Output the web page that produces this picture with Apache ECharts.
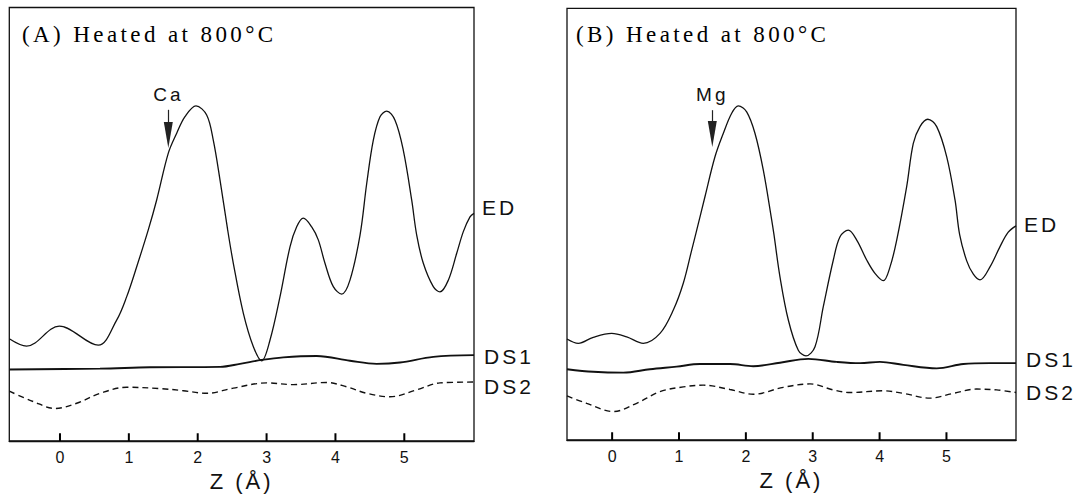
<!DOCTYPE html>
<html>
<head>
<meta charset="utf-8">
<script src="https://cdn.jsdelivr.net/npm/echarts@6/dist/echarts.min.js"></script>
<style>
  html, body { margin: 0; padding: 0; background: #fff; }
  #chart { width: 1082px; height: 497px; }
  /* the typeset figure uses generously spaced lettering */
  #chart text { letter-spacing: 3px; }
  #chart text[style*="Serif"], #chart text[font-family*="Serif"] { letter-spacing: 3.4px; }
  #chart text[style*="16px"], #chart text[font-size="16"] { letter-spacing: 0; }
</style>
</head>
<body>
<div id="chart"></div>
<script>
// Electron-density profiles along Z (Å), arbitrary units (0–100 scale)
const panelTitles = ['(A) Heated at 800°C', '(B) Heated at 800°C'];
const tickValues = [0, 1, 2, 3, 4, 5];
const axisName = 'Z (Å)';
const seriesNames = ['ED', 'DS1', 'DS2'];

// Panel A – Ca site
const edA = [
  [-0.736, 23.6], [-0.484, 21.9], [-0.010, 26.5], [0.556, 22.1], [0.823, 27.9],
  [0.969, 33.3], [1.114, 40.2], [1.282, 48.7], [1.404, 55.6], [1.573, 66.4],
  [1.695, 71.0], [1.815, 74.8], [1.975, 77.3], [2.130, 75.2], [2.226, 69.4],
  [2.324, 60.2], [2.435, 48.7], [2.517, 41.0], [2.662, 29.5], [2.807, 21.8],
  [2.929, 18.5], [3.050, 23.3], [3.195, 33.3], [3.340, 44.8], [3.437, 49.4],
  [3.533, 51.4], [3.655, 49.4], [3.751, 46.4], [3.848, 41.0], [3.969, 35.6],
  [4.091, 33.9], [4.211, 37.1], [4.357, 47.5], [4.454, 59.4], [4.550, 69.4],
  [4.647, 74.8], [4.744, 76.1], [4.865, 74.0], [4.985, 67.1], [5.107, 55.6],
  [5.180, 47.5], [5.276, 41.0], [5.421, 35.6], [5.518, 34.4], [5.639, 37.1],
  [5.761, 43.3], [5.857, 48.3], [5.954, 51.7], [6.012, 52.5]
];
const ds1A = [
  [-0.736, 16.5], [0.581, 16.7], [1.307, 17.0], [2.324, 17.1], [2.614, 17.8],
  [2.929, 18.7], [3.243, 19.3], [3.728, 19.6], [4.211, 18.5], [4.599, 17.8],
  [4.937, 18.1], [5.421, 19.4], [6.012, 19.8]
];
const ds2A = [
  [-0.736, 11.5], [-0.388, 9.1], [-0.073, 7.5], [0.243, 8.7], [0.581, 11.0],
  [0.969, 12.4], [1.452, 12.1], [1.791, 11.6], [2.130, 11.0], [2.517, 12.2],
  [3.002, 13.4], [3.388, 13.0], [3.873, 13.5], [4.163, 12.5], [4.454, 11.0],
  [4.792, 10.2], [5.180, 11.8], [5.518, 13.4], [6.012, 13.6]
];

// Panel B – Mg site
const edB = [
  [-0.675, 23.4], [-0.506, 22.4], [-0.282, 23.8], [-0.007, 24.7], [0.218, 23.9],
  [0.466, 22.4], [0.716, 24.7], [0.915, 30.1], [1.064, 36.3], [1.190, 44.0],
  [1.265, 48.6], [1.389, 56.4], [1.538, 65.6], [1.662, 71.0], [1.788, 75.7],
  [1.887, 77.4], [2.012, 76.0], [2.137, 71.0], [2.261, 62.5], [2.386, 51.0],
  [2.421, 47.5], [2.510, 37.8], [2.635, 27.8], [2.784, 20.8], [2.899, 19.5],
  [3.034, 21.6], [3.158, 30.9], [3.308, 41.7], [3.408, 47.1], [3.532, 48.6],
  [3.658, 46.3], [3.807, 41.7], [3.931, 38.6], [4.055, 36.9], [4.156, 40.1],
  [4.256, 46.3], [4.405, 58.7], [4.504, 68.7], [4.604, 72.6], [4.720, 74.3],
  [4.854, 72.6], [5.004, 65.6], [5.128, 55.6], [5.198, 47.5], [5.303, 41.5],
  [5.402, 38.4], [5.502, 37.1], [5.651, 40.1], [5.801, 44.8], [5.921, 48.1],
  [6.040, 49.6]
];
const ds1B = [
  [-0.675, 16.4], [-0.282, 15.8], [0.167, 15.6], [0.566, 16.4], [0.965, 17.0],
  [1.314, 17.6], [1.763, 17.6], [2.111, 17.1], [2.510, 17.9], [2.934, 18.8],
  [3.358, 18.1], [3.707, 17.8], [4.006, 18.1], [4.355, 17.4], [4.854, 16.6],
  [5.252, 17.6], [5.651, 17.8], [6.040, 17.8]
];
const ds2B = [
  [-0.675, 10.2], [-0.381, 8.5], [0.017, 6.6], [0.367, 8.5], [0.716, 11.2],
  [1.064, 12.3], [1.363, 12.7], [1.763, 11.7], [2.111, 10.6], [2.560, 12.2],
  [2.959, 13.0], [3.308, 11.6], [3.557, 11.0], [4.055, 11.4], [4.355, 10.8],
  [4.754, 9.7], [5.103, 10.8], [5.452, 11.8], [5.752, 11.6], [6.040, 11.0]
];

// Site markers: label, Z position, arrow start and arrow-head centre
const siteLabels = ['Ca', 'Mg'];
const siteZ = [1.573, 1.498];
const arrowTop = [76.4, 76.4];
const arrowHead = [70.6, 70.9];

const INK = '#111';
const SANS = 'Liberation Sans';
const SERIF = 'Liberation Serif';
const TICK_LEN = 8;

const chart = echarts.init(document.getElementById('chart'), null, { renderer: 'svg' });

const grids = [
  { left: 9.3, top: 7.5, width: 464.7, height: 433.5 },
  { left: 567, top: 8.3, width: 449, height: 431.7 }
];
const xRanges = [[-0.736, 6.012], [-0.675, 6.040]];
const edData = [edA, edB];
const ds1Data = [ds1A, ds1B];
const ds2Data = [ds2A, ds2B];
// label nudges for the curve names at the right edge [ED, DS1, DS2]
const endOffsets = [[[0, -6], [2, 1], [2, 4]], [[0, -1], [2, -4], [2, 0]]];

const xAxes = [], yAxes = [], series = [], graphics = [];
for (let p = 0; p < 2; p++) {
  xAxes.push({
    gridIndex: p, type: 'value', min: xRanges[p][0], max: xRanges[p][1],
    axisLine: { show: true, lineStyle: { color: INK, width: 1.3 } },
    axisTick: { show: false },
    axisLabel: { show: true, customValues: tickValues, margin: 8,
      fontFamily: SANS, fontSize: 16, color: INK },
    splitLine: { show: false },
    name: axisName, nameLocation: 'middle', nameGap: 29,
    nameTextStyle: { fontFamily: SANS, fontSize: 22, color: INK }
  });
  yAxes.push({ gridIndex: p, type: 'value', min: 0, max: 100, show: false });

  const endLabel = (name, off) => ({
    show: true, formatter: name, distance: 8, offset: off,
    fontFamily: SANS, fontSize: 21, color: INK
  });

  series.push({
    name: seriesNames[0], type: 'line', xAxisIndex: p, yAxisIndex: p,
    data: edData[p], smooth: 0.35, symbol: 'none', silent: true,
    lineStyle: { color: INK, width: 1.3 },
    endLabel: endLabel(seriesNames[0], endOffsets[p][0]),
    markLine: {
      silent: true, animation: false,
      symbol: ['none', 'triangle'], symbolSize: [9, 26],
      lineStyle: { color: '#222', width: 1.2, type: 'solid' },
      label: { show: true, position: 'start', distance: 6, formatter: siteLabels[p],
        fontFamily: SANS, fontSize: 19, color: INK },
      data: [[{ coord: [siteZ[p], arrowTop[p]] }, { coord: [siteZ[p], arrowHead[p]] }]]
    }
  });
  series.push({
    name: seriesNames[1], type: 'line', xAxisIndex: p, yAxisIndex: p,
    data: ds1Data[p], smooth: 0.35, symbol: 'none', silent: true,
    lineStyle: { color: INK, width: 1.9 },
    endLabel: endLabel(seriesNames[1], endOffsets[p][1])
  });
  series.push({
    name: seriesNames[2], type: 'line', xAxisIndex: p, yAxisIndex: p,
    data: ds2Data[p], smooth: 0.35, symbol: 'none', silent: true,
    lineStyle: { color: INK, width: 1.4, type: [6, 4] },
    endLabel: endLabel(seriesNames[2], endOffsets[p][2])
  });
  // short upward tick marks on the Z axis, drawn as vertical segments from the axis
  series.push({
    name: 'ticks', type: 'line', xAxisIndex: p, yAxisIndex: p,
    data: tickValues.flatMap(v => [[v, 0], [v, 1.8], [v, null]]),
    connectNulls: false, symbol: 'none', silent: true,
    lineStyle: { color: '#000', width: 2 }, z: 5
  });

  graphics.push({
    type: 'text', left: [22, 576][p], top: 23,
    style: { text: panelTitles[p], font: '23px "' + SERIF + '"', fill: '#000' }
  });
}

chart.setOption({
  animation: false,
  backgroundColor: '#fff',
  grid: grids.map(g => Object.assign({ show: true, borderColor: INK, borderWidth: 1.3,
    backgroundColor: 'transparent', containLabel: false }, g)),
  xAxis: xAxes,
  yAxis: yAxes,
  series: series,
  graphic: graphics
});
</script>
</body>
</html>
